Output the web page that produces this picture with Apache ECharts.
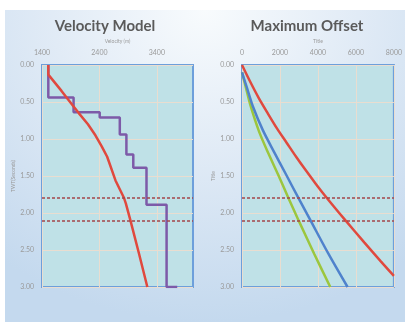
<!DOCTYPE html>
<html>
<head>
<meta charset="utf-8">
<script src="https://cdn.jsdelivr.net/npm/echarts@6/dist/echarts.min.js"></script>
<style>
html,body{margin:0;padding:0;background:#ffffff;}
#panel{position:absolute;left:5px;top:10px;width:400px;height:312px;
 background: radial-gradient(ellipse 85% 100% at 50% 0%, #f8fbfd 0%, #e1ebf6 45%, #c4d9ee 100%);}
#chart{position:absolute;left:0;top:0;width:405px;height:322px;}
</style>
</head>
<body>
<div id="panel"></div>
<div id="chart"></div>
<script>
// ---- Data ----
const twtTicks = [0, 0.5, 1, 1.5, 2, 2.5, 3];
const velocityTicks = [1400, 2400, 3400];
const offsetTicks = [0, 2000, 4000, 6000, 8000];

// Velocity Model: red smooth velocity curve
const redVel = [1510, 1510, 1740, 1950, 2040, 2200, 2330, 2440, 2535, 2680, 2825, 2860, 2940, 3090, 3235];
const redTwt = [0, 0.13, 0.35, 0.56, 0.65, 0.80, 0.95, 1.10, 1.24, 1.56, 1.79, 1.87, 2.10, 2.55, 3.00];

// Velocity Model: purple blocky (interval) velocity
const purpleVel = [1510, 1510, 1950, 1950, 2405, 2405, 2755, 2755, 2870, 2870, 2990, 2990, 3220, 3220, 3570, 3570, 3755];
const purpleTwt = [0, 0.44, 0.44, 0.64, 0.64, 0.71, 0.71, 0.94, 0.94, 1.21, 1.21, 1.39, 1.39, 1.89, 1.89, 3.00, 3.00];

// Maximum Offset curves
const redOffset = [0, 420, 870, 1350, 1850, 2350, 2850, 3350, 3900, 4480, 5450, 6450, 7300, 8000];
const redOffTwt = [0, 0.22, 0.44, 0.65, 0.86, 1.05, 1.24, 1.42, 1.61, 1.80, 2.10, 2.40, 2.65, 2.85];

const blueOffset = [0, 250, 560, 1097, 1700, 2300, 2977, 3587, 4550, 5560];
const blueOffTwt = [0.10, 0.30, 0.55, 0.88, 1.18, 1.47, 1.80, 2.09, 2.55, 3.00];

const greenOffset = [0, 200, 450, 900, 1400, 1900, 2450, 2980, 3800, 4650];
const greenOffTwt = [0.10, 0.30, 0.55, 0.90, 1.20, 1.48, 1.80, 2.10, 2.55, 3.00];

// Horizontal dashed reference times
const refTimes = [1.8, 2.1];

function pairs(xs, ys) { return xs.map((x, i) => [x, ys[i]]); }

const chart = echarts.init(document.getElementById('chart'), null, {renderer: 'canvas'});

const labelStyle = {color: '#9a9a9a', fontSize: 7, fontFamily: 'Lato'};
const gridLine = {show: true, lineStyle: {color: '#e9ddd0', width: 1}};
const dashStyle = {color: '#a4454a', width: 1.6, type: [3, 2]};

function yAxisFor(gridIndex, name) {
  return {
    type: 'value', gridIndex: gridIndex, inverse: true, min: 0, max: 3, interval: 0.5,
    name: name, nameLocation: 'middle', nameGap: 26, nameRotate: 90,
    nameTextStyle: {color: '#9a9a9a', fontSize: 5, fontFamily: 'Lato'},
    axisLine: {show: false}, axisTick: {show: false},
    axisLabel: Object.assign({margin: 8, formatter: v => v.toFixed(2)}, labelStyle),
    splitLine: gridLine
  };
}

function refLines(xAxisIndex, yAxisIndex) {
  return {
    type: 'line', xAxisIndex: xAxisIndex, yAxisIndex: yAxisIndex, data: [],
    markLine: {
      silent: true, symbol: ['none', 'none'], label: {show: false},
      lineStyle: dashStyle,
      data: refTimes.map(t => ({yAxis: t}))
    }, z: 5
  };
}

const option = {
  animation: false,
  backgroundColor: 'transparent',
  graphic: [
    {type: 'text', x: 105, y: 26, style: {text: 'Velocity Model', font: 'bold 15px Lato', fill: '#5a5a5a', textAlign: 'center', textVerticalAlign: 'middle'}},
    {type: 'text', x: 307, y: 26, style: {text: 'Maximum Offset', font: 'bold 15px Lato', fill: '#5a5a5a', textAlign: 'center', textVerticalAlign: 'middle'}}
  ],
  grid: [
    {left: 42, top: 65, width: 151, height: 222, show: true, backgroundColor: '#bfe1e7', borderColor: '#6d9fdb', borderWidth: 2},
    {left: 242, top: 65, width: 152, height: 222, show: true, backgroundColor: '#bfe1e7', borderColor: '#6d9fdb', borderWidth: 2}
  ],
  xAxis: [
    {
      type: 'value', gridIndex: 0, position: 'top', min: 1400, max: 4030,
      name: 'Velocity (m)', nameLocation: 'middle', nameGap: 20,
      nameTextStyle: {color: '#9a9a9a', fontSize: 5, fontFamily: 'Lato'},
      axisLine: {show: false},
      axisTick: {show: false, customValues: velocityTicks},
      axisLabel: Object.assign({margin: 9, customValues: velocityTicks, formatter: v => String(v)}, labelStyle),
      splitLine: gridLine
    },
    {
      type: 'value', gridIndex: 1, position: 'top', min: 0, max: 8000, interval: 2000,
      name: 'Title', nameLocation: 'middle', nameGap: 20,
      nameTextStyle: {color: '#9a9a9a', fontSize: 5, fontFamily: 'Lato'},
      axisLine: {show: false}, axisTick: {show: false},
      axisLabel: Object.assign({margin: 9, formatter: v => String(v)}, labelStyle),
      splitLine: gridLine
    }
  ],
  yAxis: [yAxisFor(0, 'TWT(Seconds)'), yAxisFor(1, 'Title')],
  series: [
    {type: 'line', xAxisIndex: 0, yAxisIndex: 0, data: pairs(purpleVel, purpleTwt), showSymbol: false,
     lineStyle: {color: '#7d5aa8', width: 2.5}, z: 2},
    {type: 'line', xAxisIndex: 0, yAxisIndex: 0, data: pairs(redVel, redTwt), showSymbol: false,
     lineStyle: {color: '#e0493e', width: 2.5}, z: 3},
    refLines(0, 0),
    {type: 'line', xAxisIndex: 1, yAxisIndex: 1, data: pairs(greenOffset, greenOffTwt), showSymbol: false, smooth: 0.3,
     lineStyle: {color: '#9cc63e', width: 2.5}, z: 2},
    {type: 'line', xAxisIndex: 1, yAxisIndex: 1, data: pairs(blueOffset, blueOffTwt), showSymbol: false, smooth: 0.3,
     lineStyle: {color: '#4f82cc', width: 2.5}, z: 3},
    {type: 'line', xAxisIndex: 1, yAxisIndex: 1, data: pairs(redOffset, redOffTwt), showSymbol: false, smooth: 0.3,
     lineStyle: {color: '#e0493e', width: 2.5}, z: 4},
    refLines(1, 1)
  ]
};
chart.setOption(option);
</script>
</body>
</html>
